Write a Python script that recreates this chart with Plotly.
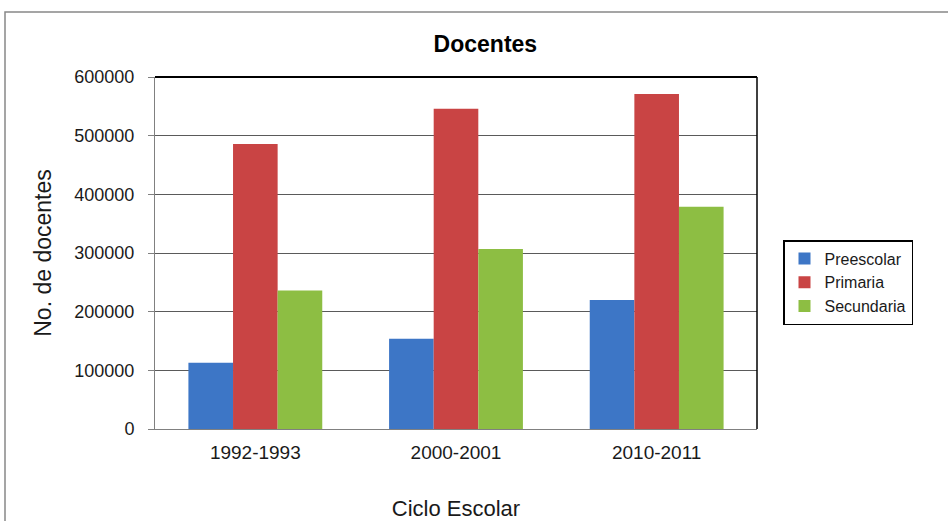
import plotly.graph_objects as go

categories = ["1992-1993", "2000-2001", "2010-2011"]
preescolar = [113000, 154000, 220000]
primaria = [486000, 546000, 571000]
secundaria = [236000, 307000, 379000]
series_names = ["Preescolar", "Primaria", "Secundaria"]
colors = ["#3D76C6", "#C94444", "#8DBE43"]
tick_vals = [0, 100000, 200000, 300000, 400000, 500000, 600000]

fig = go.Figure()
for name, vals, col in zip(series_names, [preescolar, primaria, secundaria], colors):
    fig.add_trace(go.Bar(x=categories, y=vals, name=name, marker=dict(color=col, line=dict(width=0))))

font_family = "Liberation Sans, Arial, sans-serif"
fig.update_layout(
    width=948, height=521,
    margin=dict(l=155, r=191, t=77, b=92),
    paper_bgcolor="white", plot_bgcolor="white",
    barmode="group", bargap=0.333, bargroupgap=0,
    font=dict(family=font_family, color="#1a1a1a", size=18),
    title=dict(text="<b>Docentes</b>", x=0.512, xanchor="center", y=0.916, yanchor="middle",
               font=dict(size=23, family=font_family, color="black")),
    xaxis=dict(title=dict(text="Ciclo Escolar", font=dict(size=22), standoff=40),
               automargin=False,
               showline=True, linecolor="#808080", linewidth=1, mirror=False,
               ticks="", tickfont=dict(size=19), showgrid=False, ticklabelstandoff=6),
    yaxis=dict(title=dict(text="No. de docentes", font=dict(size=23), standoff=16),
               automargin=False,
               range=[0, 600000], tickvals=tick_vals, tickformat="d",
               showgrid=True, gridcolor="#5a5a5a", gridwidth=1,
               showline=True, linecolor="#808080", linewidth=1,
               ticks="outside", ticklen=6, tickcolor="#808080", tickfont=dict(size=18),
               ticklabelstandoff=10, zeroline=False),
    legend=dict(x=(783 - 155) / 602, xanchor="left", y=(429 - 240) / 352, yanchor="top",
                bordercolor="black", borderwidth=1.5, bgcolor="white",
                font=dict(size=16), itemwidth=30, tracegroupgap=0),
    showlegend=True,
)
# plot area border (top and right)
fig.add_shape(type="line", xref="paper", yref="paper", x0=0, x1=1, y0=1, y1=1,
              line=dict(color="black", width=2))
fig.add_shape(type="line", xref="paper", yref="paper", x0=1, x1=1, y0=0, y1=1,
              line=dict(color="black", width=1.5))
# outer chart frame
fig.add_shape(type="rect", xref="paper", yref="paper",
              x0=(5 - 155) / 602, x1=(950 - 155) / 602,
              y0=(429 - 525) / 352, y1=(429 - 12) / 352,
              line=dict(color="#888888", width=1.5))

fig.write_html("out.html", config={"displayModeBar": False},
               post_script="document.body.style.margin='0px';")
